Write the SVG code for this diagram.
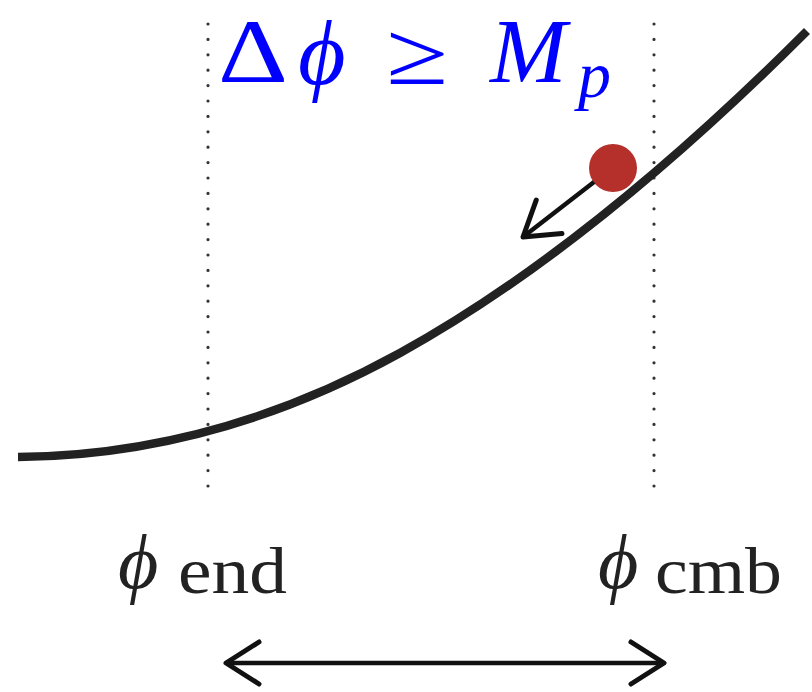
<svg xmlns="http://www.w3.org/2000/svg" width="812" height="692" viewBox="0 0 812 692">
<style>
.dots{stroke:#333;stroke-width:3.2;stroke-dasharray:0 15.4;stroke-linecap:round;fill:none}
.curve{stroke:#222;stroke-width:8.5;fill:none}
.arr{stroke:#111;stroke-width:4.5;fill:none}
.title{fill:#0000ff;font-family:"Liberation Serif","DejaVu Serif",serif}
.lbl{fill:#222;font-family:"Liberation Serif","DejaVu Serif",serif}
.it{font-style:italic}
</style>
<defs>
<marker id="vhead" viewBox="0 0 42 52" refX="38" refY="26" markerWidth="42" markerHeight="52" markerUnits="userSpaceOnUse" orient="auto-start-reverse">
<path d="M5,5 L38,26 L5,47" fill="none" stroke="#111" stroke-width="5" stroke-linecap="round" stroke-linejoin="round"/>
</marker>
</defs>
<rect width="812" height="692" fill="#fff"/>
<g id="guides">
<line id="guide-end" class="dots" x1="208" y1="24" x2="208" y2="488"/>
<line id="guide-cmb" class="dots" x1="654" y1="24" x2="654" y2="488"/>
</g>
<g id="potential">
<path class="curve" d="M18,457 C145,456 273,423 400,353 C536,278 671,167 807,31"/>
</g>
<g id="ball">
<circle cx="613" cy="168" r="24" fill="#b5302a"/>
</g>
<g id="connectors">
<line class="arr" x1="594" y1="182" x2="523" y2="237" marker-end="url(#vhead)"/>
<line class="arr" x1="226" y1="663" x2="664" y2="663" marker-start="url(#vhead)" marker-end="url(#vhead)"/>
</g>
<g id="title">
<text class="title" x="218" y="82" font-size="90" textLength="70" lengthAdjust="spacingAndGlyphs">Δ</text>
<text class="title it" x="298" y="84" font-size="92">ϕ</text>
<text class="title" x="386" y="84" font-size="90" textLength="62" lengthAdjust="spacingAndGlyphs">≥</text>
<text class="title it" x="490" y="82" font-size="92">M</text>
<text class="title it" x="578" y="97" font-size="66">p</text>
</g>
<g id="label-end">
<text class="lbl it" x="118" y="588" font-size="78">ϕ</text>
<text class="lbl" x="178" y="593" font-size="66" textLength="109" lengthAdjust="spacingAndGlyphs">end</text>
</g>
<g id="label-cmb">
<text class="lbl it" x="598" y="588" font-size="78">ϕ</text>
<text class="lbl" x="655" y="593" font-size="66" textLength="127" lengthAdjust="spacingAndGlyphs">cmb</text>
</g>
</svg>
